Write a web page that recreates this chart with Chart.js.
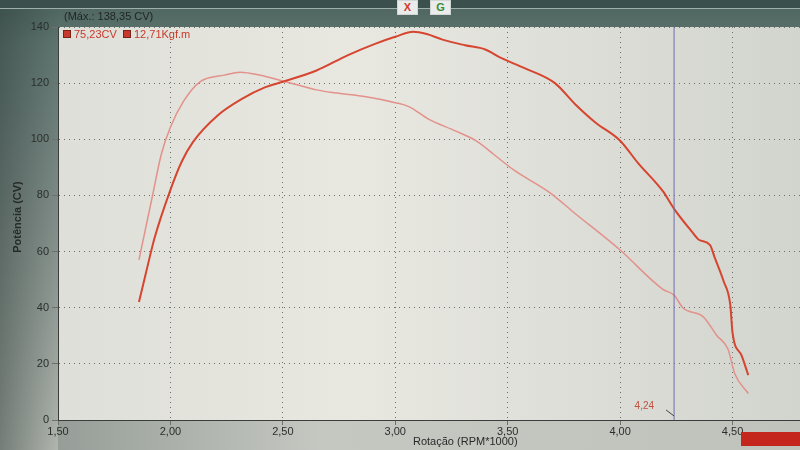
<!DOCTYPE html>
<html>
<head>
<meta charset="utf-8">
<script src="https://cdn.jsdelivr.net/npm/chart.js@4"></script>
<style>
  body { margin: 0; background: #8e9893; }
  #wrap { position: relative; width: 800px; height: 450px; overflow: hidden; }
  canvas { position: absolute; left: 0; top: 0; }
  .tool { position: absolute; top: 0; width: 19px; height: 13px; border: 1px solid #cfd6d3;
          background: #e9ecea; font: bold 11px 'Liberation Sans', sans-serif; text-align: center; line-height: 13px; }
  #btn { position: absolute; left: 741px; top: 432px; width: 62px; height: 14px; background: #c4251c; }
</style>
</head>
<body>
<div id="wrap">
  <canvas id="dyno-chart" width="800" height="450"></canvas>
  <div class="tool" style="left:397px;color:#d23a2a">X</div>
  <div class="tool" style="left:430px;color:#3a8a3a">G</div>
  <div id="btn"></div>
</div>
<script>
// rotação em RPM*1000
const powerRpm = [1.86, 1.89, 1.93, 2.00, 2.05, 2.10, 2.21, 2.32, 2.42, 2.50, 2.65, 2.79, 2.91, 3.00, 3.08, 3.14, 3.21, 3.31, 3.40, 3.47, 3.57, 3.71, 3.80, 3.89, 4.00, 4.08, 4.19, 4.24, 4.32, 4.35, 4.40, 4.42, 4.46, 4.49, 4.50, 4.54, 4.57]
const powerCv = [42, 52, 65, 82, 92, 99, 108.5, 114.5, 118.5, 120.5, 124.5, 130, 134, 136.5, 138.35, 137.5, 135.5, 133.5, 132, 129, 125.5, 120, 112.5, 106, 99.5, 91.5, 81.5, 75.23, 67, 64.2, 62.3, 58, 49.5, 41, 31, 23, 16]

const torqueRpm = [1.86, 1.92, 1.96, 2.00, 2.06, 2.13, 2.24, 2.31, 2.40, 2.50, 2.60, 2.65, 2.73, 2.87, 3.00, 3.06, 3.15, 3.27, 3.36, 3.44, 3.53, 3.69, 3.79, 4.00, 4.19, 4.24, 4.28, 4.37, 4.43, 4.48, 4.51, 4.57]
const torqueKgfm = [16.3, 22.8, 27.1, 29.8, 32.5, 34.4, 35.1, 35.4, 35.1, 34.5, 33.9, 33.6, 33.3, 32.9, 32.3, 31.9, 30.6, 29.4, 28.4, 27.0, 25.4, 23.1, 21.2, 17.3, 13.3, 12.71, 11.4, 10.5, 8.6, 7.2, 4.7, 2.7]

const xTicks = [1.5, 2.0, 2.5, 3.0, 3.5, 4.0, 4.5]
const yTicks = [0, 20, 40, 60, 80, 100, 120, 140]
const cursorRpm = 4.24

const fontName = "'Liberation Sans', Arial, sans-serif"

function fmt(v) {
  return v.toFixed(2).replace('.', ',')
}

function valueAt(rpms, values, rpm) {
  let idx = rpms.indexOf(rpm)
  return values[idx]
}

const dynoPlugin = {
  id: 'dyno',
  beforeDraw(chart) {
    const ctx = chart.ctx
    const area = chart.chartArea
    ctx.save()
    // moldura da tela
    let bg = ctx.createLinearGradient(0, 0, 0, 450)
    bg.addColorStop(0, '#4c635e')
    bg.addColorStop(0.1, '#5f7570')
    bg.addColorStop(0.5, '#838f8a')
    bg.addColorStop(1, '#b3b7b0')
    ctx.fillStyle = bg
    ctx.fillRect(0, 0, 800, 450)
    let side = ctx.createLinearGradient(0, 0, 60, 0)
    side.addColorStop(0, 'rgba(40,55,52,0.45)')
    side.addColorStop(1, 'rgba(40,55,52,0)')
    ctx.fillStyle = side
    ctx.fillRect(0, 0, 60, 450)
    ctx.fillStyle = '#3b504c'
    ctx.fillRect(0, 0, 800, 8)
    ctx.fillStyle = '#9fb0ab'
    ctx.fillRect(0, 8, 800, 1)
    let low = ctx.createLinearGradient(0, 0, 800, 0)
    low.addColorStop(0, '#8c948f')
    low.addColorStop(0.4, '#c5c8c1')
    low.addColorStop(1, '#c0c3bc')
    ctx.fillStyle = low
    ctx.fillRect(area.left, area.bottom, 800 - area.left, 450 - area.bottom)
    // fundo do grafico
    let plot = ctx.createLinearGradient(area.left, 0, area.right, 0)
    plot.addColorStop(0, '#dedfd8')
    plot.addColorStop(0.4, '#e8e8e1')
    plot.addColorStop(1, '#d2d4ce')
    ctx.fillStyle = plot
    ctx.fillRect(area.left, area.top, area.right - area.left, area.bottom - area.top)
    ctx.restore()
  },
  afterDatasetsDraw(chart) {
    const ctx = chart.ctx
    const area = chart.chartArea
    const x = chart.scales.x.getPixelForValue(cursorRpm)
    ctx.save()
    ctx.strokeStyle = '#6f6fae'
    ctx.lineWidth = 1
    ctx.beginPath()
    ctx.moveTo(x, area.top)
    ctx.lineTo(x, area.bottom)
    ctx.stroke()
    ctx.strokeStyle = '#444'
    ctx.beginPath()
    ctx.moveTo(x - 8, area.bottom - 10)
    ctx.lineTo(x, area.bottom - 4)
    ctx.stroke()
    ctx.fillStyle = '#c0503f'
    ctx.font = '10px ' + fontName
    ctx.textAlign = 'right'
    ctx.textBaseline = 'middle'
    ctx.fillText(fmt(cursorRpm), x - 20, area.bottom - 14)
    ctx.restore()
  },
  afterDraw(chart) {
    const ctx = chart.ctx
    const area = chart.chartArea
    let maxCv = Math.max(...powerCv)
    let cvNow = valueAt(powerRpm, powerCv, cursorRpm)
    let kgfNow = valueAt(torqueRpm, torqueKgfm, cursorRpm)
    ctx.save()
    ctx.font = '11px ' + fontName
    ctx.textBaseline = 'middle'
    ctx.fillStyle = '#1e2624'
    ctx.fillText('(Máx.: ' + fmt(maxCv) + ' CV)', 64, 17)

    // legenda
    let items = [[fmt(cvNow) + 'CV', 63], [fmt(kgfNow) + 'Kgf.m', 123]]
    items.forEach(function (item) {
      ctx.fillStyle = '#c8392b'
      ctx.fillRect(item[1], area.top + 3, 8, 8)
      ctx.strokeStyle = '#7a2218'
      ctx.strokeRect(item[1] + 0.5, area.top + 3.5, 7, 7)
      ctx.fillStyle = '#c8392b'
      ctx.fillText(item[0], item[1] + 11, area.top + 8)
    })

    // titulos dos eixos
    ctx.fillStyle = '#262b29'
    ctx.fillText('Rotação (RPM*1000)', 413, 442)
    ctx.translate(18, 217)
    ctx.rotate(-Math.PI / 2)
    ctx.textAlign = 'center'
    ctx.font = 'bold 11px ' + fontName
    ctx.fillText('Potência (CV)', 0, 0)
    ctx.restore()
  }
}

function drawDyno() {
  const ctx = document.getElementById('dyno-chart')
  const dynoChart = new Chart(ctx, {
    type: 'line',
    data: {
      datasets: [{
        label: 'Potência',
        data: powerRpm.map(function (r, i) { return { x: r, y: powerCv[i] } }),
        borderColor: '#d5452f',
        borderWidth: 2,
        pointRadius: 0,
        cubicInterpolationMode: 'monotone',
        yAxisID: 'y'
      }, {
        label: 'Torque',
        data: torqueRpm.map(function (r, i) { return { x: r, y: torqueKgfm[i] } }),
        borderColor: '#e3918a',
        borderWidth: 1.5,
        pointRadius: 0,
        cubicInterpolationMode: 'monotone',
        yAxisID: 'y1'
      }]
    },
    options: {
      responsive: false,
      animation: false,
      devicePixelRatio: 1,
      layout: { padding: { top: 27, right: 0, left: 0, bottom: 0 } },
      plugins: { legend: { display: false }, tooltip: { enabled: false } },
      scales: {
        x: {
          type: 'linear',
          min: 1.5,
          max: 4.8,
          afterBuildTicks: function (scale) {
            scale.ticks = xTicks.map(function (v) { return { value: v } })
          },
          afterFit: function (scale) { scale.height = 30 },
          ticks: {
            callback: function (v) { return fmt(v) },
            color: '#2a2f2d',
            font: { family: fontName, size: 11 },
            maxRotation: 0,
            autoSkip: false,
            padding: 0
          },
          grid: { color: '#6e706c', tickLength: 5 },
          border: { color: '#3a3d3b', width: 1, dash: [1, 4] }
        },
        y: {
          min: 0,
          max: 140,
          afterBuildTicks: function (scale) {
            scale.ticks = yTicks.map(function (v) { return { value: v } })
          },
          afterFit: function (scale) { scale.width = 58 },
          ticks: {
            color: '#2a2f2d',
            font: { family: fontName, size: 11 },
            padding: 3
          },
          grid: { color: '#6e706c', tickLength: 6 },
          border: { color: '#3a3d3b', width: 1, dash: [1, 4] }
        },
        y1: {
          display: false,
          min: 0,
          max: 40
        }
      }
    },
    plugins: [dynoPlugin]
  })
}

drawDyno()
</script>
</body>
</html>
